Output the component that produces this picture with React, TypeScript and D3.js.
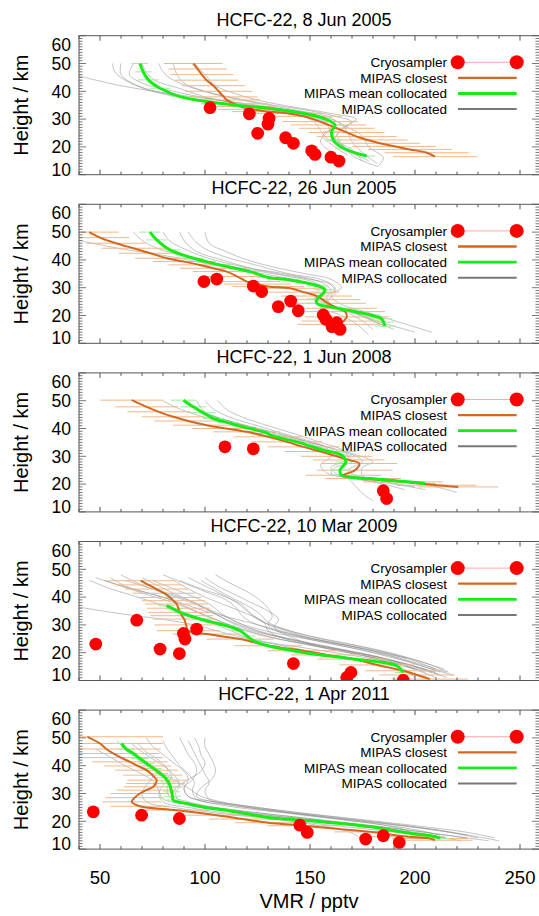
import React from "react";
import * as d3 from "d3";

type P = [number, number];
type E = [number, number, number];

const TITLES = [
  "HCFC-22, 8 Jun 2005",
  "HCFC-22, 26 Jun 2005",
  "HCFC-22, 1 Jun 2008",
  "HCFC-22, 10 Mar 2009",
  "HCFC-22, 1 Apr 2011",
];
const X_TICKS = [50, 100, 150, 200, 250];
const Y_TICKS = [10, 20, 30, 40, 50, 60];
const LEGEND = ["Cryosampler", "MIPAS closest", "MIPAS mean collocated", "MIPAS collocated"];
const X_LABEL = "VMR / pptv";
const Y_LABEL = "Height / km";

// Cryosampler: [height km, VMR pptv]
const cryo1: P[] = [[34.1, 102.4], [31.9, 121.1], [30.3, 130.5], [28.2, 130], [24.9, 125.1], [23.3, 138.4], [21.3, 142.1], [18.6, 150.8], [17.3, 152.4], [16.3, 160], [14.9, 163.8]];
const cryo2: P[] = [[32.2, 99.5], [33.1, 105.6], [30.6, 123], [28.6, 127], [23.2, 134.9], [25.2, 140.8], [21.7, 144.4], [20.2, 156.3], [18.6, 157.6], [17.4, 162.7], [16.0, 160.5], [15.0, 164.3]];
const cryo3: P[] = [[33.4, 109.5], [32.7, 123], [17.6, 184.9], [14.8, 186.5]];
const cryo4: P[] = [[23.1, 48], [31.7, 67.5], [21.3, 78.6], [19.7, 87.8], [26.9, 89.7], [24.9, 90.5], [28.5, 96], [16.1, 142.1], [12.9, 169.5], [11.1, 167.5], [10.1, 194.4]];
const cryo5: P[] = [[23.4, 46.8], [22.2, 69.8], [21.0, 87.8], [18.6, 145.2], [16.0, 148.7], [13.6, 176.5], [14.8, 184.9], [12.4, 192.5]];

// MIPAS closest: [height km, VMR pptv, error pptv]
const closest1: E[] = [[50, 94.4, 14], [48, 96.5, 14], [46, 98.5, 15], [44, 100.8, 15], [42, 104, 15], [40, 106.5, 16], [38, 109, 16], [36.9, 110.3, 16], [35.5, 114, 16], [34.5, 116.7, 17], [33.5, 123, 17], [32.7, 130, 17], [32.1, 138.9, 17], [31, 147, 18], [29.1, 154.8, 18], [27.9, 158.8, 18], [26.7, 162.7, 18], [25.2, 167.5, 18], [23.7, 172.2, 19], [22.5, 177.5, 19], [21.3, 183.3, 19], [20.2, 190, 20], [19.1, 197.6, 20], [17.9, 205.6, 20], [16.5, 209.5, 20]];
const closest2: E[] = [[50, 44.9, 14], [48, 50, 14], [46, 57.5, 14], [44.2, 65.9, 15], [42.4, 74, 15], [40.6, 81.8, 15], [39.4, 90, 15], [38.2, 97.6, 15], [37, 104, 16], [35.8, 110.3, 16], [34, 115.5, 16], [32.2, 119.9, 16], [31.3, 125, 16], [30.4, 130.1, 17], [29.8, 140.5, 17], [28.4, 147, 17], [27, 153.2, 17], [25.7, 156, 18], [24.4, 158.7, 18], [22.6, 163, 19], [21.4, 166.7, 19], [19.5, 167.5, 20], [18, 166, 20], [16.8, 164, 20]];
const closest3: E[] = [[50.2, 65.1, 15], [47.8, 72.2, 15], [46, 78, 15], [44.2, 84.9, 15], [42.7, 92, 16], [41.2, 100.8, 16], [40, 110, 16], [38.8, 119.9, 16], [37, 130.1, 16], [35.2, 139, 17], [33.4, 146.8, 17], [31.7, 155, 17], [30, 162.7, 17], [28.7, 168.5, 17], [27.4, 173.5, 18], [25, 171.4, 18], [23.2, 165.9, 18], [22, 175.4, 18], [20.8, 194.4, 19], [19.6, 210.3, 19], [19, 220.6, 19]];
const closest4: E[] = [[45.9, 69.4, 16], [44.4, 73, 16], [42.9, 77, 15], [41.4, 80.5, 15], [39.9, 83.3, 15], [38.7, 85, 15], [37.5, 86.5, 15], [36, 87.3, 15], [34.5, 88.1, 15], [33.3, 89, 15], [32.1, 90.1, 15], [30, 91, 15], [27.9, 92, 15], [26.7, 100.8, 16], [24.9, 116.7, 16], [22.5, 130.1, 16], [20.7, 146.8, 17], [19.2, 158, 17], [17.7, 170.6, 17], [15.6, 182, 18], [13.5, 194.4, 18], [12, 201, 18], [10.5, 207.1, 18]];
const closest5: E[] = [[50.4, 44, 36], [48, 50, 30], [46, 53, 26], [44.4, 56.3, 22], [42.9, 60, 20], [41.4, 64.3, 18], [39.9, 68, 16], [38.4, 72.2, 15], [36.6, 75, 14], [34.8, 77, 14], [33.6, 76.5, 14], [32.4, 75.4, 14], [31.2, 72, 14], [30, 69, 14], [28.5, 66.5, 14], [27, 65.1, 14], [25.4, 69, 14], [24, 86.5, 15], [22.2, 105.6, 15], [20.8, 118, 16], [19.5, 130.1, 16], [18.4, 146.8, 17], [16.2, 178.6, 17], [14.5, 196, 18], [13.8, 207.1, 18], [13.2, 209.5, 18]];

// MIPAS mean collocated: [height km, VMR pptv, error pptv]
const mean1: E[] = [[50, 69, 4], [47, 70.6, 4], [44.1, 73, 5], [41.1, 78.6, 5], [38.1, 88.1, 4], [36.3, 100.8, 4], [35.1, 113.5, 4], [33.9, 130.1, 4], [32.1, 146.8, 4], [30.3, 156.3, 4], [27.9, 161.9, 4], [25.5, 160.3, 4], [22.5, 161.1, 4], [19.5, 165.9, 4], [16.7, 177, 4]];
const mean2: E[] = [[50, 73.8, 5], [47.2, 77, 5], [43.6, 83.3, 5], [40.6, 94.4, 5], [38.2, 107.1, 5], [35.8, 121.4, 5], [33.7, 130.1, 5], [32.8, 140.5, 5], [30.6, 154, 5], [29.3, 157, 5], [28, 156.3, 5], [26, 153.5, 5], [24.4, 153.2, 5], [23, 160, 5], [22, 167.5, 5], [20.2, 178.6, 5], [18.8, 184.1, 5], [17.6, 185, 5], [16.2, 185.7, 5]];
const mean3: E[] = [[50.2, 89.7, 6], [47.8, 94.4, 6], [45.7, 99, 6], [43.6, 104, 5], [42.1, 111, 5], [40.6, 118.2, 5], [38.2, 130.1, 5], [37.6, 131, 5], [35.2, 143.7, 5], [32.2, 156.3, 5], [30.4, 165, 5], [28, 167.1, 5], [25, 164.3, 5], [23.2, 165, 5], [22, 178.6, 5], [21, 194.4, 5], [20.2, 204.8, 5]];
const mean4: E[] = [[36.9, 81.7, 4], [35.7, 85, 4], [34.5, 88.1, 4], [33.3, 92.5, 4], [32.1, 97.6, 4], [30.9, 104, 4], [29.7, 110.3, 4], [27.9, 116.7, 4], [26, 120, 4], [24.3, 123, 4], [22.5, 130.1, 4], [20.1, 146.8, 4], [17.7, 170.6, 4], [15.3, 191.3, 4], [12.9, 194.4, 4]];
const mean5: E[] = [[48, 60.3, 4], [46, 62.5, 4], [44.4, 65.9, 4], [42.6, 69, 4], [40.8, 72.2, 4], [39, 75.5, 4], [37.2, 78.6, 4], [35.7, 81, 4], [34.2, 82.5, 4], [32.4, 83.5, 4], [30.6, 84.1, 4], [29, 84.5, 4], [27.6, 84.9, 4], [26.4, 91.3, 4], [25, 100, 4], [24, 110.3, 4], [22.7, 120, 4], [21.4, 130.1, 4], [20.4, 146.8, 4], [18, 178.6, 4], [16, 195, 4], [14.4, 210.3, 4], [13.8, 211.9, 4]];

// MIPAS collocated profiles: [height km, VMR pptv]
const coll1: P[][] = [
  [[50, 56], [47, 57], [44, 62], [40, 75], [37, 95], [35, 115], [33, 135], [31, 150], [28, 158], [25, 160], [22, 163], [18, 170], [15, 178]],
  [[50, 60], [46, 60], [42, 68], [39, 82], [36, 105], [34, 125], [32, 142], [29, 152], [26, 155], [23, 158], [20, 165], [16, 172], [13, 182]],
  [[50, 66], [46, 64], [43, 70], [40, 85], [37, 105], [35, 122], [33, 140], [30, 155], [27, 160], [24, 156], [21, 160], [17, 168]],
  [[50, 78], [47, 80], [44, 85], [41, 95], [38, 110], [35, 130], [33, 145], [31, 158], [28, 165], [25, 168], [22, 170], [18, 175], [14, 182]],
  [[50, 85], [47, 86], [43, 90], [40, 100], [37, 118], [35, 133], [33, 150], [31, 162], [29, 170], [26, 165], [23, 162], [19, 170], [15, 175]],
  [[45.5, 40], [42, 60], [39, 85], [37, 105], [35, 125], [33, 142], [31, 155], [28, 162], [25, 158], [22, 155], [18, 160], [14, 165]],
  [[50, 95], [46, 100], [42, 105], [39, 115], [36, 130], [34, 145], [32, 160], [30, 172], [28, 168], [25, 163], [21, 165], [17, 172]],
  [[50, 70], [47, 72], [44, 76], [41, 88], [38, 100], [36, 112], [34, 128], [32, 148], [30, 160], [27, 168], [24, 175], [20, 178], [16, 185], [12.9, 182]],
];
const coll2: P[][] = [
  [[47, 40], [44, 60], [41, 85], [38, 105], [36, 120], [34, 135], [32, 148], [30, 155], [27, 152], [24, 158], [21, 170], [18, 180], [15, 190]],
  [[50, 66], [47, 70], [44, 78], [41, 92], [38, 110], [36, 125], [34, 140], [32, 152], [29, 158], [26, 155], [23, 162], [20, 175], [16, 185]],
  [[50, 80], [47, 83], [44, 90], [41, 100], [38, 115], [35, 135], [33, 150], [31, 160], [28, 162], [25, 158], [22, 168], [18, 182], [14, 200]],
  [[50, 92], [47, 95], [44, 100], [41, 110], [38, 125], [35, 140], [33, 155], [30, 162], [27, 160], [24, 165], [21, 178], [17, 195], [14, 208]],
  [[50, 100], [46, 102], [43, 110], [40, 120], [37, 135], [35, 148], [33, 160], [30, 165], [27, 158], [24, 160], [21, 168], [18, 175], [15, 180]],
  [[50, 88], [47, 90], [43, 96], [40, 108], [37, 122], [35, 138], [32, 155], [29, 160], [26, 152], [23, 155], [20, 165], [17, 172], [13, 178]],
];
const coll3: P[][] = [
  [[50, 80], [47, 88], [44, 100], [41, 115], [38, 132], [35, 148], [32, 160], [30, 168], [28, 170], [26, 162], [24, 160], [22, 170], [20, 190], [18, 205]],
  [[50, 100], [47, 104], [44, 112], [41, 125], [38, 138], [35, 152], [32, 163], [30, 172], [28, 175], [25, 168], [23, 172], [21, 185], [19, 200]],
  [[50, 106], [47, 110], [44, 118], [41, 130], [38, 143], [35, 155], [32, 166], [29, 168], [26, 160], [24, 162], [22, 168], [19, 172], [16, 176], [14, 180]],
  [[50, 92], [47, 96], [44, 106], [41, 120], [38, 136], [35, 150], [33, 158], [30, 160], [27, 155], [24, 158], [22, 172], [20, 185], [18, 195]],
  [[50, 96], [46, 100], [43, 110], [40, 125], [37, 140], [34, 155], [31, 170], [28, 180], [26, 175], [23, 175], [21, 192], [19, 210], [17, 220]],
];
const coll4: P[][] = [
  [[46, 45], [43, 55], [40, 68], [37, 80], [34, 92], [31, 102], [28, 112], [25, 122], [22, 140], [19, 160], [16, 180], [13, 195], [11, 205]],
  [[47, 48], [44, 60], [41, 72], [38, 85], [35, 95], [32, 105], [29, 115], [26, 128], [23, 148], [20, 168], [17, 188], [14, 200], [11, 210]],
  [[46, 52], [43, 65], [40, 80], [37, 90], [34, 98], [31, 108], [28, 120], [25, 135], [22, 155], [19, 175], [16, 192], [13, 205]],
  [[48, 60], [45, 68], [42, 78], [39, 90], [36, 100], [33, 110], [30, 118], [27, 128], [24, 145], [21, 165], [18, 185], [15, 198], [12, 212]],
  [[46, 62], [43, 75], [40, 88], [37, 98], [34, 105], [31, 112], [28, 122], [25, 140], [22, 160], [19, 180], [16, 195], [13, 210]],
  [[47, 70], [44, 78], [41, 86], [38, 95], [35, 102], [32, 110], [29, 120], [26, 135], [23, 152], [20, 172], [17, 190], [14, 205], [11, 215]],
  [[46, 75], [43, 85], [40, 95], [37, 103], [34, 108], [31, 115], [28, 128], [25, 148], [22, 168], [19, 185], [16, 200], [13, 212]],
  [[48, 80], [45, 90], [42, 100], [39, 110], [36, 115], [33, 118], [30, 125], [27, 138], [24, 155], [21, 175], [18, 192], [15, 204], [12, 218]],
  [[46, 88], [43, 98], [40, 110], [37, 118], [34, 122], [31, 128], [28, 138], [25, 152], [22, 172], [19, 188], [16, 202], [13, 215]],
  [[47, 92], [44, 100], [41, 108], [38, 115], [35, 120], [32, 125], [29, 135], [26, 150], [23, 170], [20, 188], [17, 202], [14, 214]],
  [[46, 98], [43, 105], [40, 112], [37, 120], [34, 126], [31, 130], [28, 140], [25, 155], [22, 175], [19, 192], [16, 206], [13, 216]],
  [[48, 105], [45, 112], [42, 120], [39, 126], [36, 130], [33, 132], [30, 130], [27, 140], [24, 158], [21, 178], [18, 196]],
  [[36.4, 40], [34, 60], [32, 80], [30, 95], [28, 105], [26, 115], [24, 128], [22, 145], [20, 162], [17, 185], [14, 200]],
  [[47, 55], [44, 62], [41, 75], [38, 88], [35, 100], [32, 115], [29, 130], [26, 140], [23, 150], [20, 170], [17, 185], [14, 195], [11, 200]],
  [[46, 85], [43, 92], [40, 100], [37, 110], [34, 120], [31, 128], [28, 130], [25, 138], [22, 158], [19, 178], [16, 196], [13, 208]],
  [[47, 100], [44, 106], [41, 114], [38, 122], [35, 130], [32, 135], [29, 133], [26, 145], [23, 165], [20, 185], [17, 200], [14, 210]],
];
const coll5: P[][] = [
  [[48, 50], [45, 55], [42, 62], [39, 70], [36, 75], [33, 72], [30, 70], [27, 72], [25, 85], [23, 105], [21, 130], [19, 155], [17, 180], [15, 205], [13, 222]],
  [[49, 58], [46, 62], [43, 68], [40, 75], [37, 80], [34, 82], [31, 82], [28, 84], [26, 95], [24, 115], [22, 138], [20, 160], [18, 185], [16, 205], [14, 225]],
  [[48, 65], [45, 70], [42, 76], [39, 82], [36, 86], [33, 88], [30, 86], [27, 88], [25, 100], [23, 120], [21, 145], [19, 170], [17, 195], [15, 215], [13, 235]],
  [[50, 72], [47, 75], [44, 80], [41, 85], [38, 90], [35, 92], [32, 90], [29, 92], [27, 105], [25, 125], [23, 145], [21, 168], [19, 190], [17, 210], [14, 230]],
  [[49, 80], [46, 82], [43, 85], [40, 88], [37, 92], [34, 95], [31, 94], [28, 96], [26, 110], [24, 130], [22, 152], [20, 175], [18, 198], [16, 218], [13, 240]],
  [[50, 88], [47, 90], [44, 92], [41, 95], [38, 96], [35, 94], [32, 90], [29, 92], [27, 100], [25, 115], [23, 138], [21, 160], [19, 182], [17, 200], [15, 212]],
  [[50, 95], [47, 97], [44, 98], [41, 100], [38, 98], [35, 92], [32, 86], [29, 85], [27, 92], [25, 105], [23, 125], [21, 150], [19, 172], [17, 190], [14, 205]],
  [[46, 48], [43, 55], [40, 62], [37, 70], [34, 76], [31, 78], [28, 80], [26, 92], [24, 110], [22, 132], [20, 155], [18, 178], [16, 200], [14, 215]],
  [[49, 92], [46, 94], [43, 96], [40, 98], [37, 100], [34, 102], [31, 100], [28, 102], [26, 115], [24, 135], [22, 158], [20, 182], [18, 205], [16, 225], [14, 238]],
  [[48, 68], [45, 72], [42, 78], [39, 82], [36, 84], [33, 80], [30, 78], [27, 80], [25, 92], [23, 110], [21, 132], [19, 150], [17, 165], [15, 172], [13, 175]],
  [[47, 60], [44, 65], [41, 70], [38, 78], [35, 85], [32, 92], [29, 98], [27, 108], [25, 122], [23, 142], [21, 165], [19, 188], [17, 208], [15, 225]],
  [[50, 100], [47, 100], [44, 102], [41, 104], [38, 105], [35, 103], [32, 98], [29, 96], [27, 104], [25, 120], [23, 140], [21, 162], [19, 182], [17, 195], [15, 200]],
];

const CRYO = [cryo1, cryo2, cryo3, cryo4, cryo5];
const CLOSEST = [closest1, closest2, closest3, closest4, closest5];
const MEAN = [mean1, mean2, mean3, mean4, mean5];
const COLL = [coll1, coll2, coll3, coll4, coll5];

const W = 539;
const H = 916;
const LEFT = 79;
const RIGHT = 541;
const TOP0 = 35.7;
const STEP = 168.6;
const PH = 139;
const FONT = "'Liberation Sans', Arial, Helvetica, sans-serif";
const AXIS = "#555";

const C_CLOSE = "#d2691e";
const C_CLOSE_ERR = "#f0b88c";
const C_MEAN = "#18ec18";
const C_MEAN_ERR = "#9ef09e";
const C_COLL = "#8a8a8a";
const C_CRYO = "#ff0000";

export default function App() {
  const x = d3.scaleLinear().domain([40, 260]).range([LEFT, RIGHT]);
  const xMinor = d3.range(40, 261, 10);
  const yMinor = d3.range(10, 61, 1);

  return (
    <svg
      width={W}
      height={H}
      style={{ position: "absolute", left: 0, top: 0, background: "#fff", fontFamily: FONT }}
    >
      {TITLES.map((title, i) => {
        const top = TOP0 + i * STEP;
        const bottom = top + PH;
        const y = d3.scaleLinear().domain([10, 60]).range([bottom, top]);
        const line = d3
          .line<number[]>()
          .x((d) => x(d[1]))
          .y((d) => y(d[0]))
          .curve(d3.curveCatmullRom.alpha(0.5));
        const clipId = `clip${i}`;
        const legY = top + 26.6;
        const legStep = 15.6;
        return (
          <g key={i}>
            <defs>
              <clipPath id={clipId}>
                <rect x={LEFT} y={top} width={RIGHT - LEFT} height={PH} />
              </clipPath>
            </defs>
            <text x={304} y={top - 10} textAnchor="middle" fontSize={18} fill="#000">
              {title}
            </text>
            <g clipPath={`url(#${clipId})`}>
              {COLL[i].map((prof, k) => (
                <path key={k} d={line(prof) || ""} fill="none" stroke={C_COLL} strokeWidth={0.6} strokeOpacity={0.85} />
              ))}
              {CLOSEST[i].map((d, k) => (
                <line key={"ce" + k} x1={x(d[1] - d[2])} x2={x(d[1] + d[2])} y1={y(d[0])} y2={y(d[0])} stroke={C_CLOSE_ERR} strokeWidth={1} />
              ))}
              {MEAN[i].map((d, k) => (
                <line key={"me" + k} x1={x(d[1] - d[2])} x2={x(d[1] + d[2])} y1={y(d[0])} y2={y(d[0])} stroke={C_MEAN_ERR} strokeWidth={1} />
              ))}
              <path d={line(CLOSEST[i]) || ""} fill="none" stroke={C_CLOSE} strokeWidth={2} />
              <path d={line(MEAN[i]) || ""} fill="none" stroke={C_MEAN} strokeWidth={3} />
              {CRYO[i].map((d, k) => (
                <circle key={"c" + k} cx={x(d[1])} cy={y(d[0])} r={6.4} fill={C_CRYO} />
              ))}
            </g>
            <rect x={LEFT} y={top} width={RIGHT - LEFT} height={PH} fill="none" stroke={AXIS} strokeWidth={1} />
            {xMinor.map((v) => {
              const len = v % 50 === 0 ? 5 : 3;
              return (
                <g key={"xt" + v}>
                  <line x1={x(v)} x2={x(v)} y1={bottom} y2={bottom - len} stroke={AXIS} />
                  <line x1={x(v)} x2={x(v)} y1={top} y2={top + len} stroke={AXIS} />
                </g>
              );
            })}
            {yMinor.map((v) => {
              const len = v % 10 === 0 ? 7 : 3.5;
              return (
                <g key={"yt" + v}>
                  <line x1={LEFT} x2={LEFT + len} y1={y(v)} y2={y(v)} stroke={AXIS} strokeWidth={0.8} />
                  <line x1={RIGHT} x2={RIGHT - len - 2} y1={y(v)} y2={y(v)} stroke={AXIS} strokeWidth={0.8} />
                </g>
              );
            })}
            {Y_TICKS.map((v) => {
              let cy = y(v);
              if (v === 60) cy = top + 8.8;
              if (v === 10) cy = bottom - 5.5;
              return (
                <text key={"yl" + v} x={71} y={cy} dy="0.36em" textAnchor="end" fontSize={17.5} fill="#000">
                  {v}
                </text>
              );
            })}
            <text
              transform={`translate(27.5, ${(top + bottom) / 2}) rotate(-90)`}
              textAnchor="middle"
              fontSize={20}
              fill="#000"
            >
              {Y_LABEL}
            </text>
            {LEGEND.map((lab, k) => {
              const ly = legY + k * legStep;
              return (
                <g key={"lg" + k}>
                  <text x={447} y={ly + 4.8} textAnchor="end" fontSize={13.5} fill="#000">
                    {lab}
                  </text>
                  {k === 0 && (
                    <g>
                      <line x1={457.7} x2={516.7} y1={ly} y2={ly} stroke="#ffaaaa" strokeWidth={1} />
                      <circle cx={457.7} cy={ly} r={7} fill={C_CRYO} />
                      <circle cx={516.7} cy={ly} r={7} fill={C_CRYO} />
                    </g>
                  )}
                  {k === 1 && <line x1={458} x2={516.7} y1={ly} y2={ly} stroke={C_CLOSE} strokeWidth={2.3} />}
                  {k === 2 && <line x1={458} x2={516.7} y1={ly} y2={ly} stroke={C_MEAN} strokeWidth={2.8} />}
                  {k === 3 && <line x1={458} x2={516.7} y1={ly} y2={ly} stroke="#777" strokeWidth={2} />}
                </g>
              );
            })}
            {i === TITLES.length - 1 &&
              X_TICKS.map((v) => (
                <text key={"xl" + v} x={x(v)} y={884} textAnchor="middle" fontSize={18.5} fill="#000">
                  {v}
                </text>
              ))}
          </g>
        );
      })}
      <text x={309} y={907.5} textAnchor="middle" fontSize={20} fill="#000">
        {X_LABEL}
      </text>
    </svg>
  );
}
